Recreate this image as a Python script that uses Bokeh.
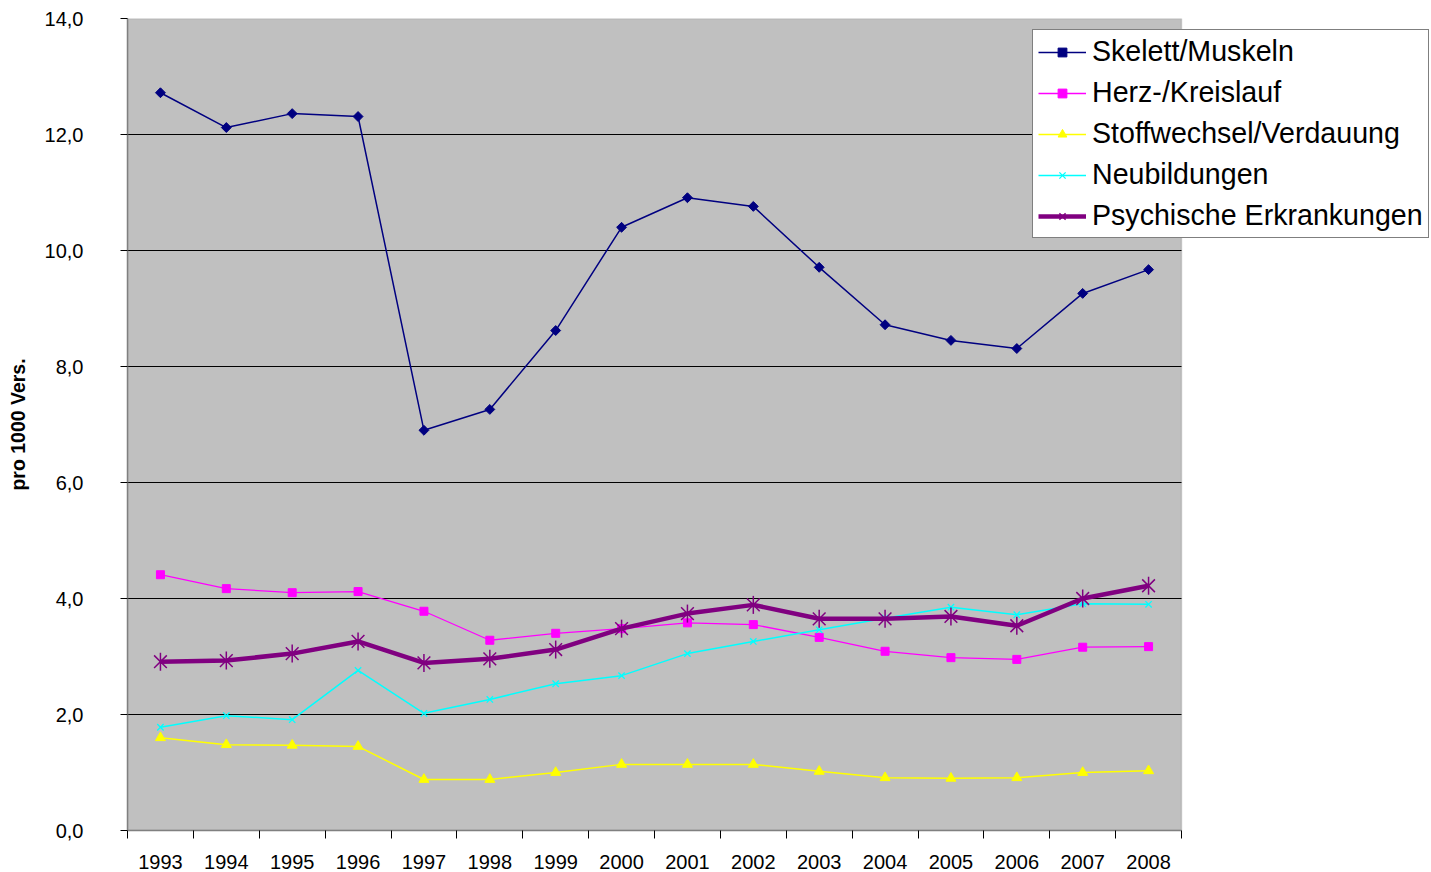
import math
from bokeh.plotting import figure
from bokeh.models import FixedTicker, Legend, LegendItem, Range1d, BoxAnnotation
from bokeh.embed import file_html
from bokeh.resources import INLINE

years = [1993, 1994, 1995, 1996, 1997, 1998, 1999, 2000,
         2001, 2002, 2003, 2004, 2005, 2006, 2007, 2008]
skelett = [12.72, 12.12, 12.36, 12.31, 6.90, 7.26, 8.62, 10.40,
           10.91, 10.76, 9.71, 8.72, 8.45, 8.31, 9.26, 9.67]
herz = [4.41, 4.17, 4.10, 4.12, 3.78, 3.28, 3.40, 3.48,
        3.58, 3.55, 3.33, 3.09, 2.98, 2.95, 3.16, 3.17]
stoffwechsel = [1.60, 1.48, 1.47, 1.45, 0.88, 0.88, 1.00, 1.14,
                1.14, 1.14, 1.02, 0.91, 0.90, 0.91, 1.00, 1.03]
neubildungen = [1.78, 1.98, 1.91, 2.76, 2.02, 2.26, 2.53, 2.67,
                3.05, 3.26, 3.46, 3.66, 3.85, 3.72, 3.91, 3.90]
psychische = [2.91, 2.93, 3.05, 3.26, 2.89, 2.96, 3.12, 3.48,
              3.74, 3.89, 3.65, 3.65, 3.69, 3.53, 4.00, 4.22]

series_names = ["Skelett/Muskeln", "Herz-/Kreislauf", "Stoffwechsel/Verdauung",
                "Neubildungen", "Psychische Erkrankungen"]
y_ticks = [0, 2, 4, 6, 8, 10, 12, 14]
y_tick_labels = ["0,0", "2,0", "4,0", "6,0", "8,0", "10,0", "12,0", "14,0"]
y_label = "pro 1000 Vers."

FONT = "Liberation Sans"

# layout (screen px)
W, H = 1431, 872
LEFT, TOP, BOTTOM = 127, 18, 42
AREA_W = 1054  # width of the grey plotting area
frame_w = W - LEFT
x0 = years[0] - 0.5
x1 = years[-1] + 0.5
x_end = x0 + (x1 - x0) * frame_w / AREA_W

p = figure(width=W, height=H,
           x_range=Range1d(x0, x_end),
           y_range=Range1d(y_ticks[0], y_ticks[-1]),
           output_backend="svg", toolbar_location=None,
           min_border_left=LEFT, min_border_right=0,
           min_border_top=TOP, min_border_bottom=BOTTOM)

p.background_fill_color = "white"
p.border_fill_color = "white"
p.outline_line_color = None

area = BoxAnnotation(left=x0, right=x1, bottom=y_ticks[0], top=y_ticks[-1],
                     fill_color="#C0C0C0", fill_alpha=1,
                     line_color="#808080", line_width=1.5, level="image")
p.add_layout(area)

# horizontal grid lines limited to the grey area
p.xgrid.visible = False
p.ygrid.visible = False
grid_ticks = y_ticks[1:-1]
p.segment(x0=[x0] * len(grid_ticks), x1=[x1] * len(grid_ticks),
          y0=grid_ticks, y1=grid_ticks, line_color="black", line_width=1,
          level="underlay")

# y axis
p.yaxis.ticker = FixedTicker(ticks=y_ticks)
p.yaxis.major_label_overrides = {t: l for t, l in zip(y_ticks, y_tick_labels)}
p.yaxis.major_tick_out = 7
p.yaxis.major_tick_in = 0
p.yaxis.major_tick_line_color = "black"
p.yaxis.axis_line_color = "#808080"
p.yaxis.axis_line_width = 1.5
p.yaxis.major_label_standoff = 37
p.yaxis.major_label_text_font = FONT
p.yaxis.major_label_text_font_size = "20px"
p.yaxis.major_label_text_color = "black"
p.yaxis.axis_label = y_label
p.yaxis.axis_label_text_font = FONT
p.yaxis.axis_label_text_font_size = "19.5px"
p.yaxis.axis_label_text_font_style = "bold"
p.yaxis.axis_label_text_color = "black"
p.yaxis.axis_label_standoff = 13

# x axis
boundaries = [y - 0.5 for y in years] + [years[-1] + 0.5]
p.xaxis.bounds = (x0, x1)
p.xaxis.ticker = FixedTicker(ticks=years, minor_ticks=boundaries)
p.xaxis.major_tick_out = 0
p.xaxis.major_tick_in = 0
p.xaxis.minor_tick_out = 8
p.xaxis.minor_tick_in = 0
p.xaxis.minor_tick_line_color = "black"
p.xaxis.axis_line_color = "#808080"
p.xaxis.axis_line_width = 1.5
p.xaxis.major_label_standoff = 16
p.xaxis.major_label_text_font = FONT
p.xaxis.major_label_text_font_size = "20px"
p.xaxis.major_label_text_color = "black"

items = []

# Skelett/Muskeln
l1 = p.line(years, skelett, line_color="#000080", line_width=1.5)
s1 = p.scatter(years, skelett, marker="square", angle=math.pi / 4, size=7,
               fill_color="#000080", line_color="#000080")
items.append(LegendItem(label=series_names[0], renderers=[l1, s1]))

# Herz-/Kreislauf
l2 = p.line(years, herz, line_color="#FF00FF", line_width=1.3)
s2 = p.scatter(years, herz, marker="square", size=8,
               fill_color="#FF00FF", line_color="#FF00FF")
items.append(LegendItem(label=series_names[1], renderers=[l2, s2]))

# Stoffwechsel/Verdauung
l3 = p.line(years, stoffwechsel, line_color="#FFFF00", line_width=1.5)
s3 = p.scatter(years, stoffwechsel, marker="triangle", size=10,
               fill_color="#FFFF00", line_color="#FFFF00")
items.append(LegendItem(label=series_names[2], renderers=[l3, s3]))

# Neubildungen
l4 = p.line(years, neubildungen, line_color="#00FFFF", line_width=1.5)
s4 = p.scatter(years, neubildungen, marker="x", size=9,
               line_color="#00FFFF", line_width=1.3)
items.append(LegendItem(label=series_names[3], renderers=[l4, s4]))

# Psychische Erkrankungen
l5 = p.line(years, psychische, line_color="#800080", line_width=4.5)
s5 = p.scatter(years, psychische, marker="x", size=18,
               line_color="#800080", line_width=1.5)
s6 = p.scatter(years, psychische, marker="dash", angle=math.pi / 2, size=18,
               line_color="#800080", line_width=1.5)
items.append(LegendItem(label=series_names[4], renderers=[l5, s5, s6]))

legend = Legend(items=items, location=(1032 - LEFT, 830 - 238))
legend.border_line_color = "black"
legend.border_line_width = 1
legend.background_fill_color = "white"
legend.background_fill_alpha = 1
legend.label_text_font = FONT
legend.label_text_font_size = "28.6px"
legend.label_text_color = "black"
legend.glyph_width = 48
legend.glyph_height = 22
legend.label_height = 32
legend.label_standoff = 6
legend.spacing = 8
legend.padding = 5
legend.margin = 0
p.add_layout(legend)

open("out.html", "w").write(file_html(p, INLINE))
